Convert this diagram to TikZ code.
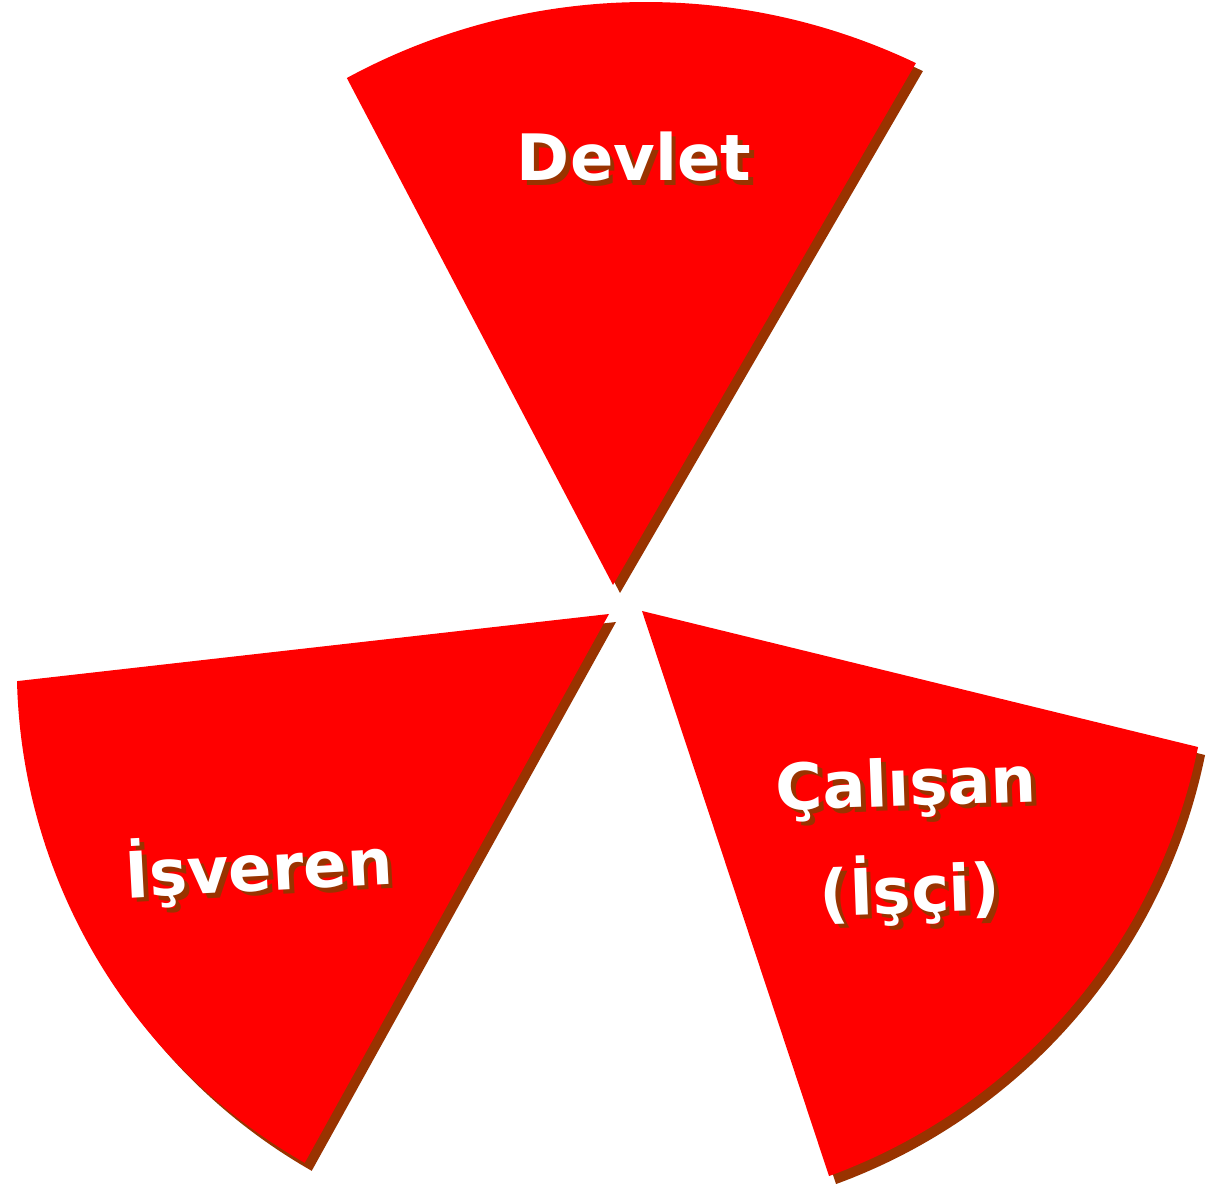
\documentclass[tikz,border=0pt]{standalone}
\usepackage{fontspec}
\setmainfont{DejaVu Sans}
\usetikzlibrary{calc}
\definecolor{slicered}{RGB}{255,0,0}
\definecolor{slicebrown}{RGB}{153,51,0}
\newcommand{\shadetext}[1]{\makebox[0pt][l]{\hspace{2.3pt}\raisebox{-2.3pt}{\textcolor{slicebrown}{#1}}}#1}
\tikzset{
  slice/.style={fill=slicered, draw=none},
  sliceshade/.style={fill=slicebrown, draw=none, shift={(7,-8)}},
  tag/.style={text=white, font=\bfseries\fontsize{32}{40}\selectfont, anchor=base, inner sep=0pt}
}
\begin{document}
\begin{tikzpicture}[x=0.5pt, y=0.5pt]
  \useasboundingbox (0,0) rectangle (1208,1189);

  % Devlet slice
  \fill[sliceshade] (613,604) -- ($(646,560)+(118.5:627)$) arc[start angle=118.5, end angle=64.5, radius=627] -- cycle;
  \fill[slice] (613,604) -- ($(646,560)+(118.5:627)$) arc[start angle=118.5, end angle=64.5, radius=627] -- cycle;

  % Isveren slice
  \fill[sliceshade] (609,575) -- ($(587.4,521.8)+(181.4:570.6)$) arc[start angle=181.4, end angle=240.3, radius=570.6] -- cycle;
  \fill[slice] (609,575) -- ($(587.4,521.8)+(181.4:570.6)$) arc[start angle=181.4, end angle=240.3, radius=570.6] -- cycle;

  % Calisan slice
  \fill[sliceshade] (642,578) -- ($(629.7,557.6)+(-11.5:580)$) arc[start angle=-11.5, end angle=-69.9, radius=580] -- cycle;
  \fill[slice] (642,578) -- ($(629.7,557.6)+(-11.5:580)$) arc[start angle=-11.5, end angle=-69.9, radius=580] -- cycle;

  % labels
  \node[tag] (devlet) at (634,1008) {\shadetext{Devlet}};
  \node[tag, rotate=3] (isveren) at (260,298) {\shadetext{İşveren}};
  \node[tag, rotate=2] (calisan) at (907,383) {\shadetext{Çalışan}};
  \node[tag, rotate=2] (isci) at (911,276) {\shadetext{(İşçi)}};
\end{tikzpicture}
\end{document}
